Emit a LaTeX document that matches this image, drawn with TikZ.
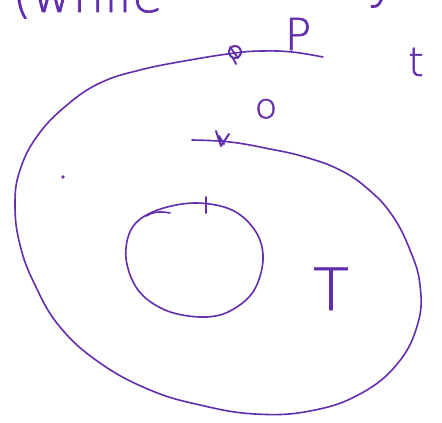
\documentclass[tikz,border=0pt]{standalone}
\usepackage{fontspec}
\newfontfamily\hand[FakeBold=1.2]{DejaVu Sans ExtraLight}
\definecolor{ink}{RGB}{98,46,172}
\begin{document}
\begin{tikzpicture}[x=1pt,y=-1pt,
  stroke/.style={draw=ink,line width=1.6pt,line cap=round,line join=round},
  lbl/.style={text=ink,inner sep=0pt,anchor=base,font=\hand}]
\useasboundingbox[fill=white] (0,0) rectangle (442,423);
% top partial handwriting (cut off by page edge, as in the reference)
\node[lbl,anchor=base west,font=\hand\fontsize{50}{50}\selectfont] (top) at (12,12) {(while};
\node[lbl,font=\hand\fontsize{50}{50}\selectfont] (topy) at (382,-2) {y};
% outer curve
\draw[stroke] plot[smooth,tension=0.7] coordinates {
 (323,57) (292,52) (262,51) (235,53) (190,60) (140,70) (100,83) (67,105) (38,135)
 (20,170) (15,205) (20,245) (35,285) (60,327) (100,363) (150,390) (200,405) (255,414)
 (310,411) (360,394) (398,363) (418,323) (420,285) (410,250) (392,215) (368,189)
 (340,170) (305,157) (270,149) (230,142) (192,140)};
% knot on outer curve
\draw[stroke,line width=2pt] (235,52) circle[radius=6];
\draw[stroke,line width=1.8pt] (230,47) -- (238,58) (233,58) -- (236,64);
% tick mark on inner end
\draw[stroke,line width=2pt] (216,131) -- (221,146) -- (229,134) (219,136) -- (224,144);
% inner circle
\draw[stroke] plot[smooth cycle,tension=0.6] coordinates {
 (194,203) (232,210) (256,232) (263,260) (253,292) (228,312) (200,317) (165,310)
 (138,290) (126,258) (132,228) (155,211)};
\draw[stroke] (170,213) .. controls (160,211) and (152,212) .. (146,216);
\draw[stroke,line width=2pt] (206,197) -- (206,213);
% small dot
\fill[ink] (63,177) circle[radius=1.8];
% labels
\node[lbl,font=\hand\fontsize{44}{44}\selectfont] (P) at (298,50) {P};
\node[lbl,font=\hand\fontsize{40}{40}\selectfont] (t) at (416,76) {t};
\node[lbl,font=\hand\fontsize{34}{34}\selectfont,xscale=1.1] (o) at (266,118) {o};
\node[lbl,font=\hand\fontsize{58}{58}\selectfont] (T) at (331,310) {T};
\end{tikzpicture}
\end{document}
